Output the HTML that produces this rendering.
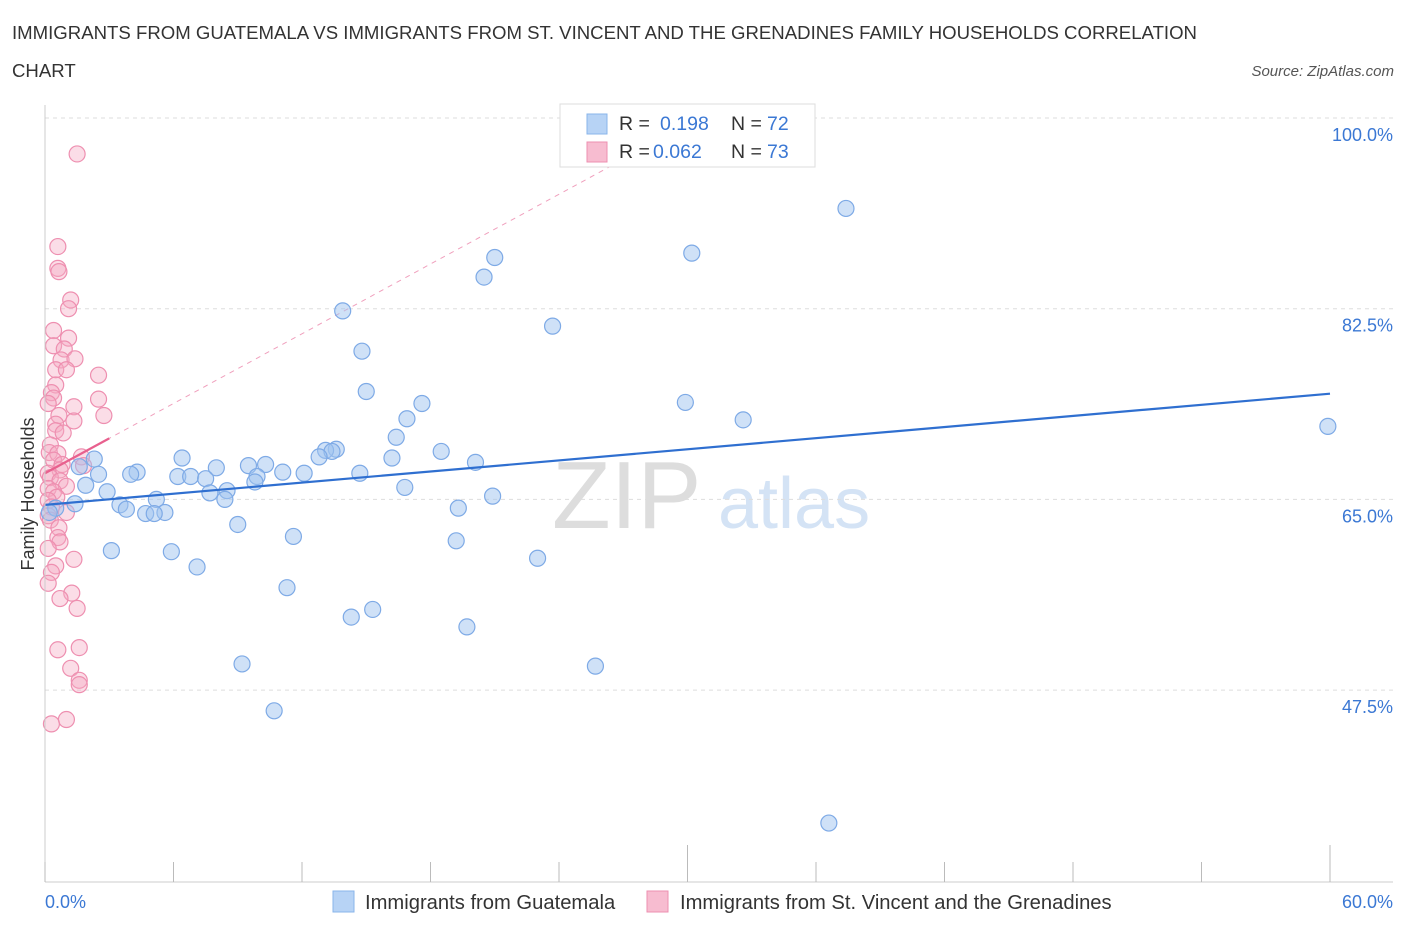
<!DOCTYPE html>
<html><head><meta charset="utf-8"><style>
body{margin:0;background:#fff;font-family:"Liberation Sans",sans-serif;}
svg text{font-family:"Liberation Sans",sans-serif;}
</style></head><body>
<svg id="chart" width="1406" height="930" xmlns="http://www.w3.org/2000/svg">
<text x="12" y="39" font-size="18.6" fill="#333">IMMIGRANTS FROM GUATEMALA VS IMMIGRANTS FROM ST. VINCENT AND THE GRENADINES FAMILY HOUSEHOLDS CORRELATION</text>
<text x="12" y="77" font-size="18.6" fill="#333">CHART</text>
<text x="1394" y="76" font-size="15" fill="#555" font-style="italic" text-anchor="end">Source: ZipAtlas.com</text>
<g>
<text x="552" y="528" font-size="96" fill="#ddd" font-family="Liberation Serif, serif">ZIP</text>
<text x="718" y="528" font-size="72" fill="#d4e3f5">atlas</text>
</g>
<g id="grid"></g>
<g id="marks"></g>
<g id="axes"></g>
<g>
<rect x="560" y="104" width="255" height="63" fill="#fff" stroke="#ddd"/>
<rect x="587" y="114" width="20" height="20" fill="#b7d3f5" stroke="#89b4ea"/>
<text x="619" y="130" font-size="19.5" fill="#333">R = </text><text x="660" y="130" font-size="19.5" fill="#3b78d4">0.198</text>
<text x="731" y="130" font-size="19.5" fill="#333">N = </text><text x="767" y="130" font-size="19.5" fill="#3b78d4">72</text>
<rect x="587" y="142" width="20" height="20" fill="#f7bcd0" stroke="#ee8fb0"/>
<text x="619" y="158" font-size="19.5" fill="#333">R = </text><text x="653" y="158" font-size="19.5" fill="#3b78d4">0.062</text>
<text x="731" y="158" font-size="19.5" fill="#333">N = </text><text x="767" y="158" font-size="19.5" fill="#3b78d4">73</text>
</g>
<g>
<rect x="333" y="891" width="21" height="21" fill="#b7d3f5" stroke="#89b4ea"/>
<text x="365" y="909" font-size="20.2" fill="#333">Immigrants from Guatemala</text>
<rect x="647" y="891" width="21" height="21" fill="#f7bcd0" stroke="#ee8fb0"/>
<text x="680" y="909" font-size="20.2" fill="#333">Immigrants from St. Vincent and the Grenadines</text>
</g>
<text transform="translate(34,494) rotate(-90)" font-size="18" fill="#333" text-anchor="middle">Family Households</text>
<text x="45" y="908" font-size="18" fill="#3b78d4">0.0%</text>
<text x="1393" y="908" font-size="18" fill="#3b78d4" text-anchor="end">60.0%</text>
</svg>
<script>
const blueX=[37.4,30.2,21.0,20.5,13.9,23.7,14.8,15.0,29.9,17.6,16.9,32.6,59.9,16.4,13.6,13.1,13.4,18.5,12.8,16.2,6.4,2.3,20.1,9.5,8.0,10.3,1.6,4.3,4.0,11.1,12.1,14.7,2.5,6.2,6.8,9.9,7.5,9.8,1.9,16.8,2.9,8.5,7.7,20.9,5.2,8.4,1.4,3.5,0.5,3.8,4.7,5.6,5.1,0.2,19.3,9.0,11.6,19.2,3.1,5.9,23.0,7.1,11.3,15.3,14.3,19.7,9.2,25.7,10.7,36.6];
const blueY=[91.7,87.6,87.2,85.4,82.3,80.9,78.6,74.9,73.9,73.8,72.4,72.3,71.7,70.7,69.6,69.5,69.4,69.4,68.9,68.8,68.8,68.7,68.4,68.1,67.9,68.2,68.0,67.5,67.3,67.5,67.4,67.4,67.3,67.1,67.1,67.1,66.9,66.6,66.3,66.1,65.7,65.8,65.6,65.3,65.0,65.0,64.6,64.5,64.2,64.1,63.7,63.8,63.7,63.8,64.2,62.7,61.6,61.2,60.3,60.2,59.6,58.8,56.9,54.9,54.2,53.3,49.9,49.7,45.6,35.3];
const pinkX=[1.5,0.6,0.6,0.65,1.2,1.1,0.4,1.1,0.4,0.9,0.75,1.4,0.5,1.0,2.5,0.5,0.3,0.4,2.5,0.15,1.35,0.65,2.75,1.35,0.5,0.5,0.85,0.25,0.2,0.6,1.7,0.4,0.8,1.8,0.7,0.15,0.25,0.7,1.0,0.15,0.4,0.55,0.15,0.3,1.0,0.15,0.25,0.65,0.6,0.7,0.15,1.35,0.5,0.3,0.15,1.25,0.7,1.5,1.6,0.6,1.2,1.6,1.6,1.0,0.3];
const pinkY=[96.7,88.2,86.2,85.9,83.3,82.5,80.5,79.8,79.1,78.8,77.8,77.9,76.9,76.9,76.4,75.5,74.8,74.3,74.2,73.8,73.5,72.7,72.7,72.2,71.9,71.3,71.1,70.0,69.3,69.2,68.9,68.6,68.2,68.1,67.7,67.4,67.0,66.7,66.2,66.0,65.7,65.2,64.9,64.3,63.8,63.5,63.1,62.4,61.5,61.1,60.5,59.5,58.9,58.3,57.3,56.4,55.9,55.0,51.4,51.2,49.5,48.4,48.0,44.8,44.4];
const blueTrend=[64.5,74.7]; // y at x=0 and x=60
const pinkTrend=[67.4,70.6]; // y at x=0 and x=3
const yTicks=[100,82.5,65,47.5];
const yTickLabels=["100.0%","82.5%","65.0%","47.5%"];
const xTicks=[0,6,12,18,24,30,36,42,48,54,60];
const NS="http://www.w3.org/2000/svg";
const xs=v=>45+v*(1285/60);
const ys=v=>118+(100-v)*(190.7/17.5);
function mk(tag,attrs,parent){const e=document.createElementNS(NS,tag);for(const k in attrs)e.setAttribute(k,attrs[k]);parent.appendChild(e);return e;}
const grid=document.getElementById('grid'),marks=document.getElementById('marks'),axes=document.getElementById('axes');
yTicks.forEach((t,i)=>{
 const l=mk('line',{x1:45,x2:1393,y1:ys(t),y2:ys(t),stroke:'#ddd','stroke-dasharray':'4,4'},grid);
 
 
 const tx=mk('text',{x:1393,y:ys(t)+23,'font-size':18,fill:'#3b78d4','text-anchor':'end'},grid);
 tx.textContent=yTickLabels[i];
 
 
});
const ax=mk('line',{x1:45,x2:45,y1:105,y2:882,stroke:'#ccc'},axes);


const bx=mk('line',{x1:45,x2:1393,y1:882,y2:882,stroke:'#ccc'},axes);


xTicks.forEach(t=>{
 const tall=(t===30||t===60);
 const l=mk('line',{x1:xs(t),x2:xs(t),y1:tall?845:862,y2:882,stroke:'#bbb'},axes);
 
 
});
const pslope=(pinkTrend[1]-pinkTrend[0])/3;
const xTop=(100-pinkTrend[0])/pslope;
const pd=mk('line',{x1:xs(0),y1:ys(pinkTrend[0]),x2:xs(xTop),y2:ys(100),stroke:'#f0a0bd','stroke-dasharray':'5,5','stroke-width':1},marks);


pinkX.forEach((x,i)=>{
 const c=mk('circle',{cx:xs(x),cy:ys(pinkY[i]),r:8,fill:'rgba(245,170,196,0.4)',stroke:'#ee8fb0','stroke-width':1.2},marks);
 
 
});
blueX.forEach((x,i)=>{
 const c=mk('circle',{cx:xs(x),cy:ys(blueY[i]),r:8,fill:'rgba(160,196,240,0.5)',stroke:'#7eaae6','stroke-width':1.2},marks);
 
 
});
const bt=mk('line',{x1:xs(0),y1:ys(blueTrend[0]),x2:xs(60),y2:ys(blueTrend[1]),stroke:'#2f6fd0','stroke-width':2.2},marks);


const pt=mk('line',{x1:xs(0),y1:ys(pinkTrend[0]),x2:xs(3),y2:ys(pinkTrend[1]),stroke:'#e8608e','stroke-width':2.2},marks);


</script>
</body></html>
